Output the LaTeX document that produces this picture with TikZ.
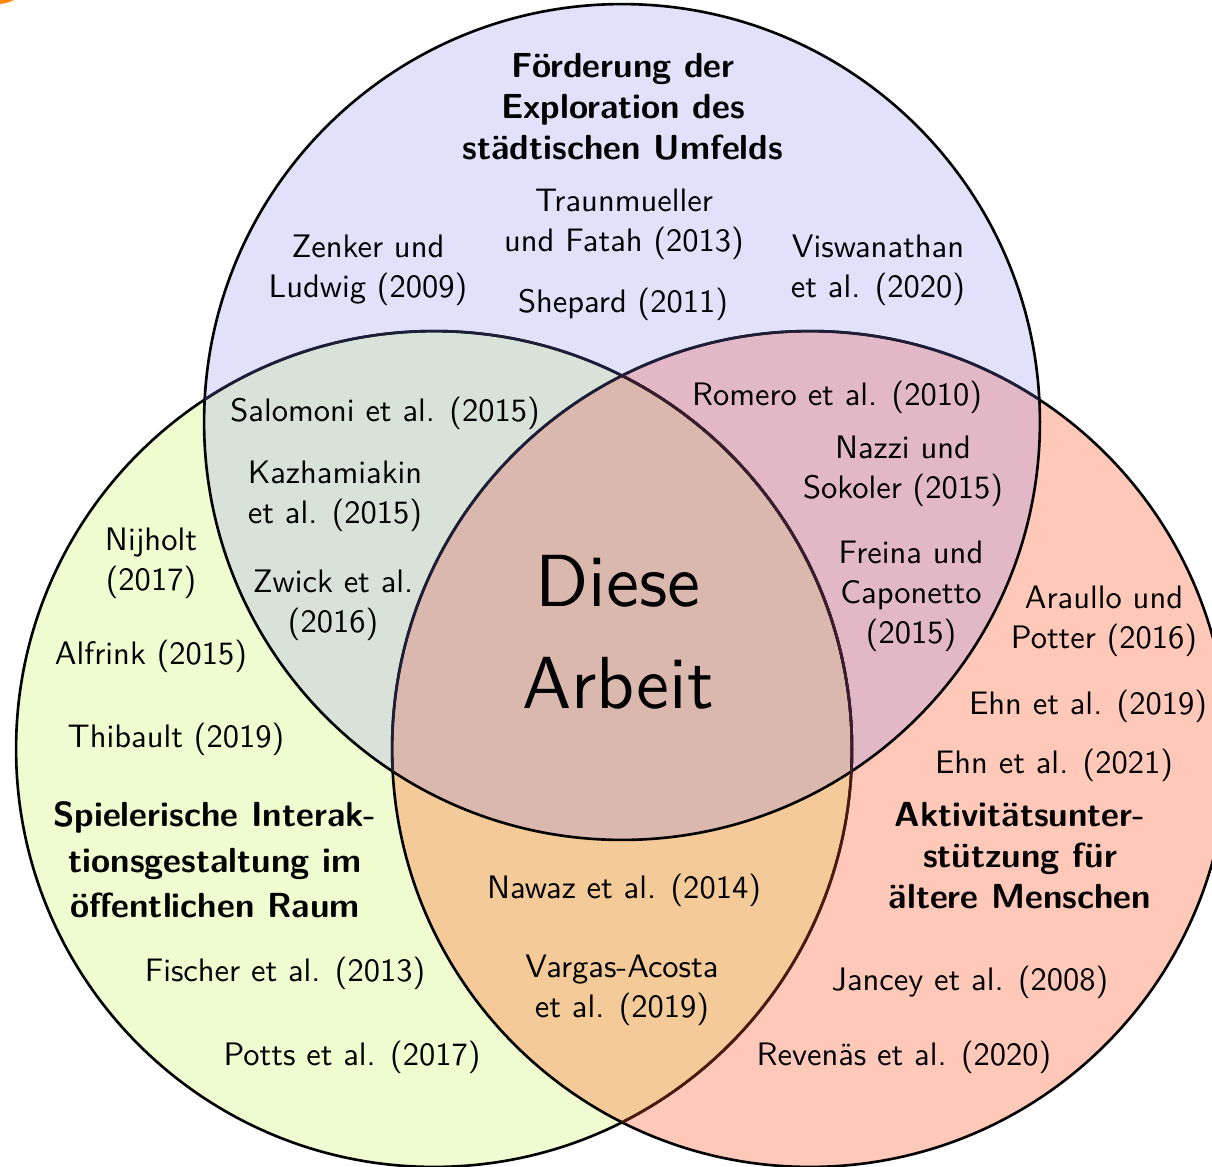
\documentclass[tikz,border=0pt]{standalone}
\usepackage{fontspec}
\setsansfont{lmsans10-regular.otf}[BoldFont=lmsans10-bold.otf]
\begin{document}
\begin{tikzpicture}[x=0.02cm,y=-0.02cm,
  lbl/.style={font=\sffamily\fontsize{18.5}{22.7}\selectfont,align=center,inner sep=0pt},
  ttl/.style={font=\sffamily\bfseries\fontsize{19.8}{23.3}\selectfont,align=center,inner sep=0pt},
  ring/.style={line width=1.5pt},
]
\definecolor{cT}{HTML}{E1E1FB}
\definecolor{cL}{HTML}{EEFCD0}
\definecolor{cR}{HTML}{FFC8B9}
\definecolor{cTL}{HTML}{D8E2D9}
\definecolor{cTR}{HTML}{E2B8C6}
\definecolor{cLR}{HTML}{F3CA98}
\definecolor{cA}{HTML}{DBB8AE}
\definecolor{lnR}{HTML}{4C1A0E}
\definecolor{lnT}{HTML}{1E1E3A}
\definecolor{lnTR}{HTML}{3A1E2E}
\useasboundingbox (0,0) rectangle (1212,1166);
\fill[white] (0,0) rectangle (1212,1166);
\coordinate (T) at (622,422);
\coordinate (L) at (434,749);
\coordinate (R) at (810,749);
\def\rr{8.36cm}
% single fills
\fill[cL] (L) circle[radius=\rr];
\fill[cR] (R) circle[radius=\rr];
\fill[cT] (T) circle[radius=\rr];
% pairwise
\begin{scope}\clip (T) circle[radius=\rr]; \fill[cTL] (L) circle[radius=\rr];\end{scope}
\begin{scope}\clip (T) circle[radius=\rr]; \fill[cTR] (R) circle[radius=\rr];\end{scope}
\begin{scope}\clip (L) circle[radius=\rr]; \fill[cLR] (R) circle[radius=\rr];\end{scope}
\begin{scope}\clip (L) circle[radius=\rr]; \clip (R) circle[radius=\rr]; \fill[cA] (T) circle[radius=\rr];\end{scope}
% outlines
\draw[ring] (L) circle[radius=\rr];
\draw[ring] (R) circle[radius=\rr];
\draw[ring] (T) circle[radius=\rr];
\begin{scope}\clip (R) circle[radius=\rr]; \draw[ring,lnR] (L) circle[radius=\rr];\end{scope}
\begin{scope}\clip (T) circle[radius=\rr]; \draw[ring,lnT] (L) circle[radius=\rr]; \draw[ring,lnT] (R) circle[radius=\rr];\end{scope}
\begin{scope}\clip (T) circle[radius=\rr]; \clip (R) circle[radius=\rr]; \draw[ring,lnTR] (L) circle[radius=\rr];\end{scope}
% orange corner mark
\fill[orange!90!yellow] (-2,-30) circle[radius=0.68cm];
% titles
\node[ttl] (tT) at (623,107) {Förderung der\\Exploration des\\städtischen Umfelds};
\node[ttl,font=\sffamily\bfseries\fontsize{19.8}{26}\selectfont] (tL) at (215,860) {Spielerische Interak-\\tionsgestaltung im\\öffentlichen Raum};
\node[ttl] (tR) at (1020,856) {Aktivitätsunter-\\stützung für\\ältere Menschen};
% top
\node[lbl] (n1) at (624,224) {Traunmueller\\und Fatah (2013)};
\node[lbl] (n2) at (623,304) {Shepard (2011)};
\node[lbl] (n3) at (368,270) {Zenker und\\Ludwig (2009)};
\node[lbl] (n4) at (878,270) {Viswanathan\\et al. (2020)};
% top-left
\node[lbl] (n5) at (385,413) {Salomoni et al. (2015)};
\node[lbl] (n6) at (335,496) {Kazhamiakin\\et al. (2015)};
\node[lbl] (n7) at (333,605) {Zwick et al.\\(2016)};
% left
\node[lbl] (n8) at (151,563) {Nijholt\\(2017)};
\node[lbl] (n9) at (151,656) {Alfrink (2015)};
\node[lbl] (n10) at (176,739) {Thibault (2019)};
\node[lbl] (n11) at (285,973) {Fischer et al. (2013)};
\node[lbl] (n12) at (352,1057) {Potts et al. (2017)};
% top-right
\node[lbl] (n13) at (837,397) {Romero et al. (2010)};
\node[lbl] (n14) at (903,471) {Nazzi und\\Sokoler (2015)};
\node[lbl] (n15) at (911,596) {Freina und\\Caponetto\\(2015)};
% right
\node[lbl] (n16) at (1104,621) {Araullo und\\Potter (2016)};
\node[lbl] (n17) at (1088,706) {Ehn et al. (2019)};
\node[lbl] (n18) at (1054,765) {Ehn et al. (2021)};
\node[lbl] (n19) at (970,982) {Jancey et al. (2008)};
\node[lbl] (n20) at (904,1057) {Revenäs et al. (2020)};
% bottom
\node[lbl] (n21) at (624,890) {Nawaz et al. (2014)};
\node[lbl] (n22) at (622,990) {Vargas-Acosta\\et al. (2019)};
% center
\node[font=\sffamily\fontsize{42}{58}\selectfont,align=center,inner sep=0pt] (c) at (618,632) {Diese\\Arbeit};
\end{tikzpicture}
\end{document}
